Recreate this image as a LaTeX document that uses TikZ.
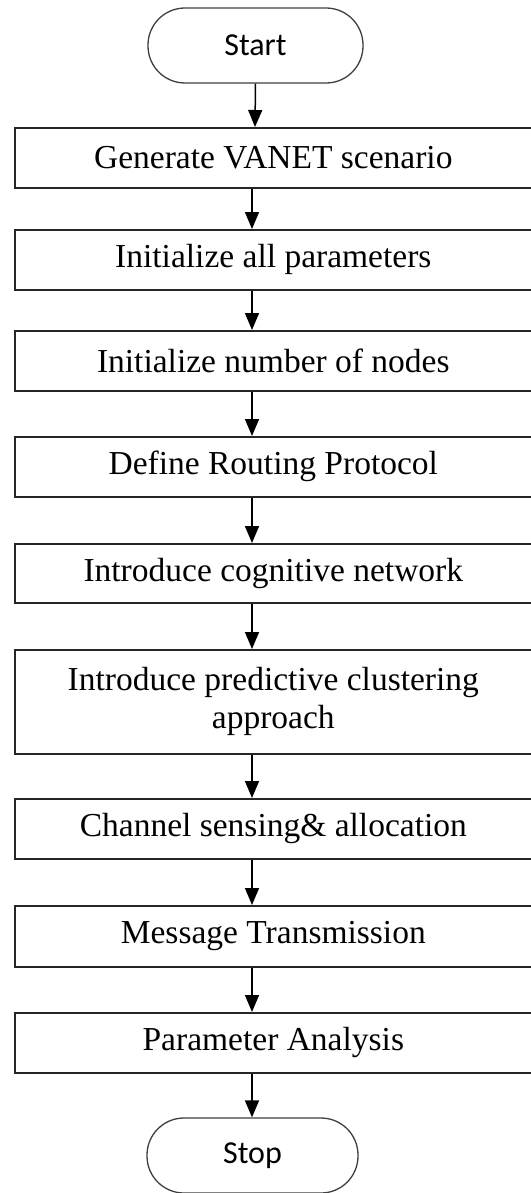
\documentclass[tikz,border=0pt]{standalone}
\usepackage{fontspec}
\setmainfont{Liberation Serif}
\newfontfamily\termfont{Carlito}
\usetikzlibrary{arrows.meta}
\tikzset{
  stepbox/.style={draw=black!85, line width=1.6pt, minimum width=517pt, inner sep=0pt,
    align=center, font=\fontsize{33.5}{38}\selectfont, anchor=north west},
  terminal/.style={draw=black!75, line width=1.3pt, rounded corners=37pt, inner sep=0pt,
    font=\termfont\fontsize{32}{38}\selectfont},
  arr/.style={draw=black, line width=1.5pt, -{Triangle[length=17pt, width=14pt]}}
}
\begin{document}
\begin{tikzpicture}[x=1pt, y=-1pt]
\useasboundingbox (0,0) rectangle (530,1193);
\fill[white] (0,0) rectangle (530,1193);
% terminals
\node[terminal, minimum width=215pt, minimum height=75pt] (start) at (255.5,45.5) {Start};
\node[terminal, minimum width=211pt, minimum height=75pt] (stop) at (252.5,1155.5) {Stop};
% process steps
\node[stepbox, minimum height=60pt] (gen) at (14,127) {Generate VANET scenario};
\node[stepbox, minimum height=60pt] (par) at (14,229) {Initialize all parameters};
\node[stepbox, minimum height=60pt] (num) at (14,330) {Initialize number of nodes};
\node[stepbox, minimum height=60pt] (rout) at (14,436) {Define Routing Protocol};
\node[stepbox, minimum height=59pt] (cog) at (14,543) {Introduce cognitive network};
\node[stepbox, minimum height=104pt] (pred) at (14,649) {Introduce predictive clustering\\approach};
\node[stepbox, minimum height=60pt] (chan) at (14,798) {Channel sensing\& allocation};
\node[stepbox, minimum height=61pt] (msg) at (14,905) {Message Transmission};
\node[stepbox, minimum height=60pt] (ana) at (14,1012) {Parameter Analysis};
% flow axis
\coordinate (axis) at (252,0);
\coordinate (saxis) at (255,0);
\draw[arr] (start.south) -- (gen.north -| saxis);
\draw[arr] (gen.south -| axis) -- (par.north -| axis);
\draw[arr] (par.south -| axis) -- (num.north -| axis);
\draw[arr] (num.south -| axis) -- (rout.north -| axis);
\draw[arr] (rout.south -| axis) -- (cog.north -| axis);
\draw[arr] (cog.south -| axis) -- (pred.north -| axis);
\draw[arr] (pred.south -| axis) -- (chan.north -| axis);
\draw[arr] (chan.south -| axis) -- (msg.north -| axis);
\draw[arr] (msg.south -| axis) -- (ana.north -| axis);
\draw[arr] (ana.south -| axis) -- (stop.north -| axis);
\end{tikzpicture}
\end{document}
